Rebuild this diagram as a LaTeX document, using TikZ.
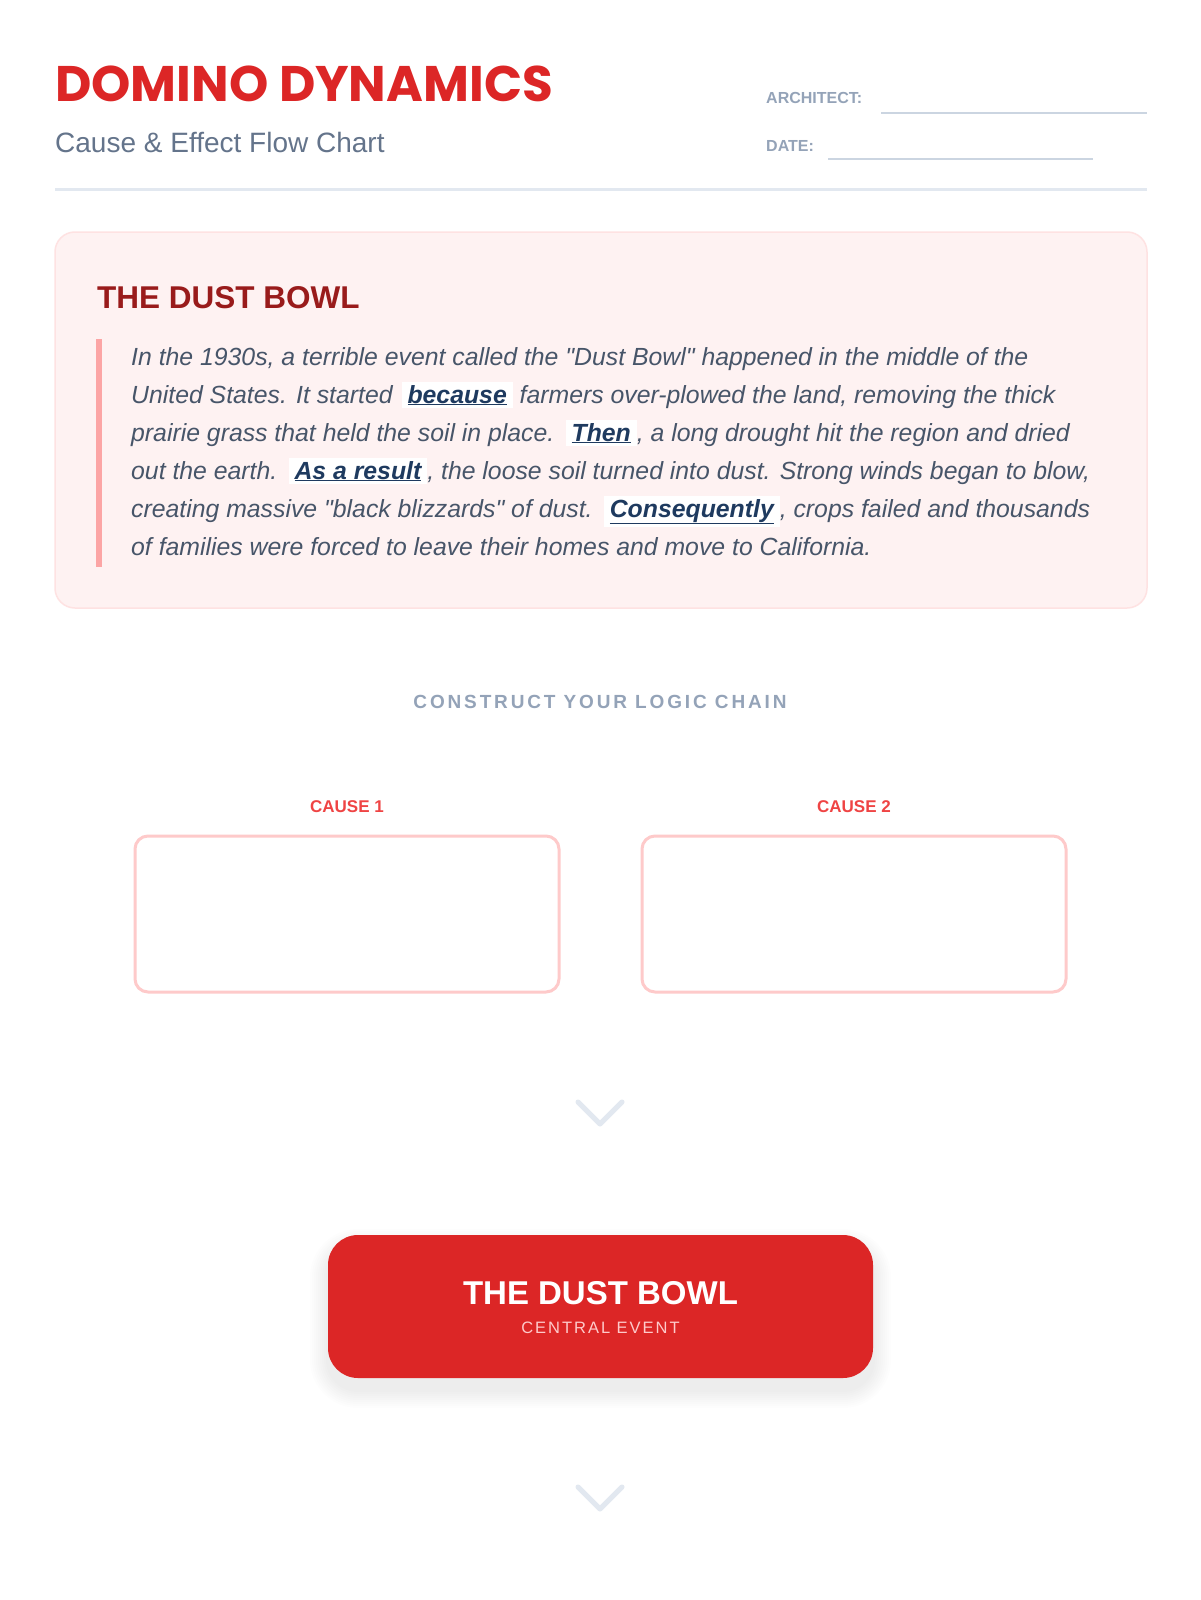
\documentclass[tikz,border=0pt]{standalone}
\usepackage{fontspec}
\setmainfont{Liberation Sans}[Ligatures=TeXOff]
\newfontfamily\titlefont{Poppins}
\newfontfamily\trackfont{Liberation Sans}[LetterSpace=15]
\newfontfamily\tagfont{Liberation Sans}[LetterSpace=12]
\usetikzlibrary{positioning}
\definecolor{brandred}{HTML}{DC2626}
\definecolor{slatemid}{HTML}{64748B}
\definecolor{slatelight}{HTML}{94A3B8}
\definecolor{rulecol}{HTML}{E2E8F0}
\definecolor{fieldcol}{HTML}{CBD5E1}
\definecolor{storyfill}{HTML}{FEF2F2}
\definecolor{storyedge}{HTML}{FEE2E2}
\definecolor{darkred}{HTML}{991B1B}
\definecolor{barcol}{HTML}{FCA5A5}
\definecolor{storyink}{HTML}{475569}
\definecolor{kwcol}{HTML}{1E3A5F}
\definecolor{causered}{HTML}{EF4444}
\definecolor{causeedge}{HTML}{FECACA}
\definecolor{eventsub}{HTML}{FECACA}
\tikzstyle{storybox} = [draw=storyedge, fill=storyfill, line width=1.5pt, rounded corners=20pt]
\tikzstyle{causebox} = [draw=causeedge, fill=white, line width=3pt, rounded corners=13pt, minimum width=424pt, minimum height=156pt]
\tikzstyle{causelabel} = [text=causered, font=\fontsize{17}{20}\selectfont\bfseries, inner sep=0pt]
\tikzstyle{storytext} = [anchor=base west, inner sep=0pt, text=storyink, font=\fontsize{24.8}{28}\selectfont\itshape]
\tikzstyle{fieldlabel} = [anchor=base west, inner sep=0pt, text=slatelight, font=\fontsize{16}{19}\selectfont\bfseries]
\tikzstyle{fieldline} = [draw=fieldcol, line width=2pt]
\tikzstyle{chevron} = [draw=rulecol, line width=5pt, line cap=round, line join=round]
\tikzstyle{eventbox} = [fill=brandred, rounded corners=30pt, minimum width=545pt, minimum height=143pt]
\newcommand{\kw}[1]{{\setlength{\fboxsep}{3pt}\hspace{2pt}\colorbox{white}{\hspace{3pt}\color{kwcol}\bfseries\underline{#1}\hspace{3pt}}}}

\begin{document}
\begin{tikzpicture}[x=1pt,y=-1pt]
\fill[white] (0,0) rectangle (1200,1600);
\useasboundingbox (0,0) rectangle (1200,1600);

% header
\node[anchor=base west, inner sep=0pt, text=brandred, font=\titlefont\fontsize{50}{56}\selectfont\bfseries] (title) at (55,102) {DOMINO DYNAMICS};
\node[anchor=base west, inner sep=0pt, text=slatemid, font=\fontsize{28}{32}\selectfont] (subtitle) at (55,152) {Cause \& Effect Flow Chart};
\node[fieldlabel] (architect) at (766,104) {ARCHITECT:};
\node[fieldlabel] (date) at (766,151) {DATE:};
\draw[fieldline] (881,113) -- (1147,113);
\draw[fieldline] (828,159) -- (1093,159);
\draw[rulecol, line width=3pt] (55,189) -- (1147,189);

% story
\draw[storybox] (55,232) rectangle (1147,608);
\node[anchor=base west, inner sep=0pt, text=darkred, font=\fontsize{31.5}{38}\selectfont\bfseries] (storytitle) at (97,308) {THE DUST BOWL};
\draw[barcol, line width=6pt] (99,339) -- (99,567);
\foreach \txt [count=\i] in {%
  {In the 1930s, a terrible event called the "Dust Bowl" happened in the middle of the},
  {United States. It started \kw{because} farmers over-plowed the land, removing the thick},
  {prairie grass that held the soil in place. \kw{Then}, a long drought hit the region and dried},
  {out the earth. \kw{As a result}, the loose soil turned into dust. Strong winds began to blow,},
  {creating massive "black blizzards" of dust. \kw{Consequently}, crops failed and thousands},
  {of families were forced to leave their homes and move to California.}}
  \node[storytext] (line\i) at (131,{365+38*(\i-1)}) {\txt};

% logic chain
\node[anchor=base, inner sep=0pt, text=slatelight, font=\trackfont\fontsize{19}{22}\selectfont\bfseries] (chainhead) at (600,708) {CONSTRUCT YOUR LOGIC CHAIN};
\node[causebox] (cause1) at (347,914) {};
\node[causebox, right=80pt of cause1] (cause2) {};
\node[causelabel, above=22pt of cause1] (cause1lbl) {CAUSE 1};
\node[causelabel, above=22pt of cause2] (cause2lbl) {CAUSE 2};

\coordinate (arrow1) at (600,1113);
\draw[chevron] (arrow1) ++(-22,-11) -- ++(22,22) -- ++(22,-22);

% central event
\foreach \s in {2,4,...,18}
  \fill[black, opacity=0.008, rounded corners={30pt+\s pt}] ({328-\s},{1247-\s}) rectangle ({873+\s},{1390+\s});
\node[eventbox] (event) at (600.5,1306.5) {};
\node[anchor=base, inner sep=0pt, text=white, font=\fontsize{33}{40}\selectfont\bfseries] (eventname) at (600.5,1304) {THE DUST BOWL};
\node[anchor=base, inner sep=0pt, text=eventsub, font=\tagfont\fontsize{16.5}{20}\selectfont] (eventtag) at (600.5,1333) {CENTRAL EVENT};

\coordinate (arrow2) at (600,1498);
\draw[chevron] (arrow2) ++(-22,-11) -- ++(22,22) -- ++(22,-22);
\end{tikzpicture}
\end{document}
